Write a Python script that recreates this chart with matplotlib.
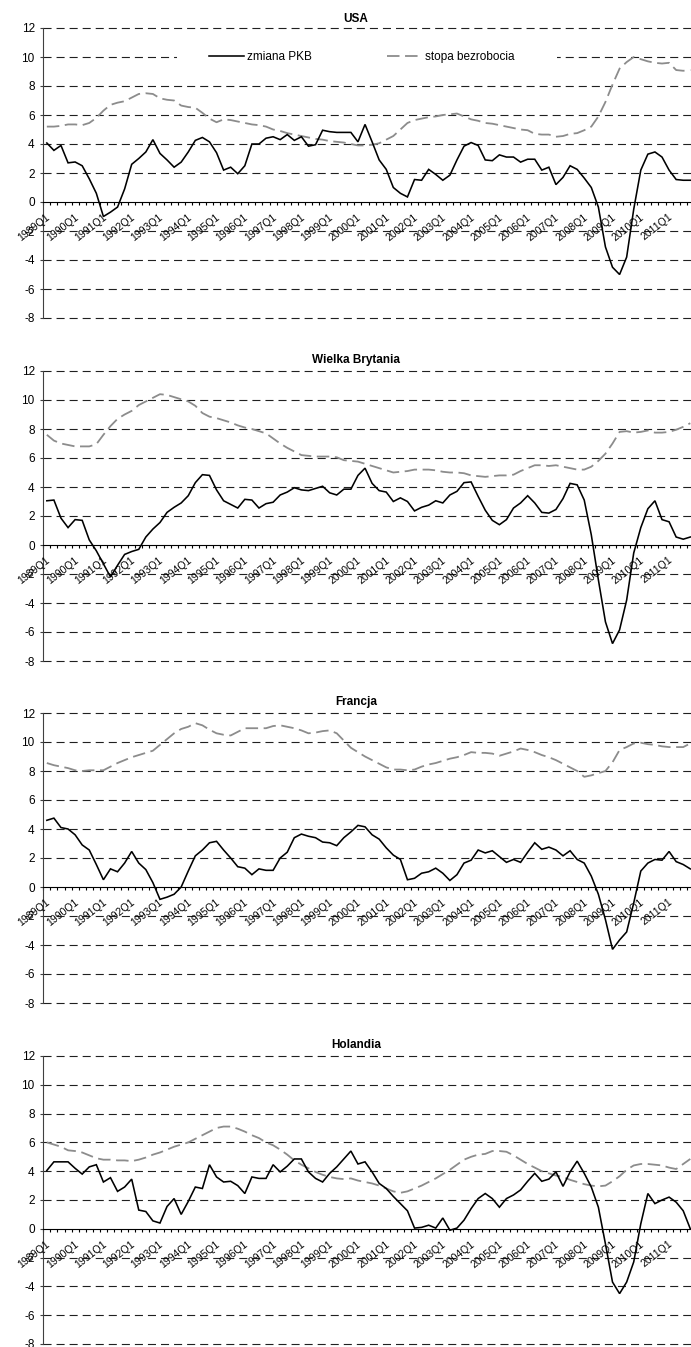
import numpy as np
import matplotlib
matplotlib.use('Agg')
import matplotlib.pyplot as plt
from matplotlib.ticker import FixedLocator, NullFormatter
from matplotlib.transforms import ScaledTranslation
from matplotlib.patches import Rectangle

plt.rcParams['font.family'] = ['Liberation Sans', 'DejaVu Sans']
plt.rcParams['lines.scale_dashes'] = False

# ---------------- data ----------------
quarters = [f"{y}Q{q}" for y in range(1989, 2012) for q in range(1, 5)]
tick_labels = quarters[::4]

usa_gdp = [4.07, 3.56, 3.9, 2.7, 2.76, 2.5, 1.6, 0.6, -1.0, -0.7, -0.35, 0.9, 2.6, 3.0, 3.45, 4.3,
           3.35, 2.9, 2.4, 2.75, 3.45, 4.25, 4.45, 4.15, 3.4, 2.2, 2.4, 1.95, 2.5, 4.0, 4.0, 4.4,
           4.5, 4.3, 4.65, 4.25, 4.5, 3.85, 3.95, 4.95, 4.85, 4.8, 4.8, 4.8, 4.15, 5.35, 4.15, 2.9,
           2.25, 1.0, 0.6, 0.35, 1.55, 1.5, 2.25, 1.9, 1.5, 1.85, 2.9, 3.85, 4.1, 3.9, 2.9, 2.85,
           3.25, 3.1, 3.1, 2.75, 2.95, 2.95, 2.2, 2.4, 1.2, 1.7, 2.5, 2.25, 1.65, 1.0, -0.35, -3.1,
           -4.5, -5.0, -3.8, -0.5, 2.2, 3.3, 3.45, 3.1, 2.2, 1.55, 1.5, 1.5]
usa_unemp = [5.2, 5.2, 5.25, 5.35, 5.35, 5.3, 5.45, 5.8, 6.3, 6.7, 6.85, 6.95, 7.2, 7.45, 7.5, 7.45,
             7.15, 7.05, 7.0, 6.65, 6.55, 6.5, 6.15, 5.75, 5.5, 5.7, 5.65, 5.55, 5.45, 5.35, 5.3, 5.2,
             5.0, 4.9, 4.75, 4.65, 4.55, 4.45, 4.35, 4.3, 4.2, 4.15, 4.1, 4.0, 3.9, 3.9, 3.95, 4.05,
             4.3, 4.55, 5.0, 5.45, 5.65, 5.75, 5.85, 5.9, 6.0, 6.05, 6.1, 5.9, 5.7, 5.6, 5.45, 5.4,
             5.3, 5.2, 5.1, 5.0, 4.95, 4.7, 4.65, 4.65, 4.5, 4.55, 4.7, 4.75, 4.95, 5.2, 5.9, 6.9,
             8.1, 9.2, 9.65, 10.0, 9.85, 9.7, 9.6, 9.55, 9.6, 9.1, 9.05, 9.1]

uk_gdp = [3.05, 3.1, 1.85, 1.2, 1.75, 1.7, 0.35, -0.4, -1.3, -2.2, -1.4, -0.65, -0.45, -0.3, 0.55, 1.1,
          1.55, 2.25, 2.6, 2.9, 3.4, 4.3, 4.85, 4.8, 3.8, 3.05, 2.8, 2.55, 3.15, 3.1, 2.55, 2.85,
          2.95, 3.45, 3.65, 3.95, 3.8, 3.75, 3.9, 4.05, 3.6, 3.45, 3.85, 3.85, 4.8, 5.3, 4.25, 3.75,
          3.65, 3.0, 3.25, 3.0, 2.35, 2.6, 2.75, 3.05, 2.9, 3.45, 3.7, 4.3, 4.35, 3.35, 2.4, 1.7,
          1.4, 1.75, 2.55, 2.9, 3.4, 2.9, 2.25, 2.2, 2.45, 3.2, 4.25, 4.15, 3.1, 0.7, -2.4, -5.3,
          -6.8, -5.85, -3.8, -0.55, 1.2, 2.5, 3.05, 1.75, 1.6, 0.55, 0.4, 0.55]
uk_unemp = [7.6, 7.2, 7.0, 6.9, 6.8, 6.8, 6.8, 6.95, 7.6, 8.2, 8.7, 9.0, 9.25, 9.65, 9.9, 10.15,
            10.4, 10.35, 10.2, 10.05, 9.9, 9.6, 9.1, 8.85, 8.75, 8.6, 8.45, 8.25, 8.1, 8.0, 7.85, 7.7,
            7.35, 7.0, 6.7, 6.45, 6.2, 6.15, 6.1, 6.1, 6.1, 6.05, 5.85, 5.8, 5.75, 5.6, 5.45, 5.3,
            5.15, 5.0, 5.05, 5.1, 5.2, 5.2, 5.2, 5.15, 5.05, 5.0, 5.0, 4.95, 4.8, 4.75, 4.7, 4.75,
            4.8, 4.8, 4.85, 5.1, 5.3, 5.5, 5.5, 5.45, 5.5, 5.4, 5.3, 5.2, 5.2, 5.4, 5.8, 6.3,
            7.0, 7.8, 7.85, 7.75, 7.8, 7.9, 7.75, 7.75, 7.8, 7.95, 8.15, 8.4]

fr_gdp = [4.6, 4.75, 4.1, 4.0, 3.6, 2.9, 2.55, 1.55, 0.5, 1.25, 1.05, 1.65, 2.45, 1.65, 1.2, 0.3,
          -0.85, -0.7, -0.5, 0.0, 1.1, 2.15, 2.55, 3.05, 3.15, 2.55, 2.0, 1.4, 1.3, 0.85, 1.25, 1.15,
          1.15, 2.0, 2.4, 3.4, 3.65, 3.5, 3.4, 3.1, 3.05, 2.85, 3.4, 3.8, 4.25, 4.15, 3.6, 3.3,
          2.7, 2.2, 1.9, 0.5, 0.6, 0.95, 1.05, 1.3, 0.95, 0.45, 0.85, 1.65, 1.85, 2.55, 2.35, 2.5,
          2.1, 1.7, 1.9, 1.7, 2.4, 3.05, 2.6, 2.75, 2.55, 2.15, 2.5, 1.9, 1.65, 0.75, -0.5, -2.25,
          -4.3, -3.65, -3.1, -1.1, 1.1, 1.65, 1.9, 1.85, 2.45, 1.75, 1.55, 1.25]
fr_unemp = [8.55, 8.4, 8.3, 8.2, 8.05, 8.0, 8.05, 8.05, 8.05, 8.3, 8.55, 8.75, 8.95, 9.1, 9.25, 9.4,
            9.8, 10.2, 10.6, 10.9, 11.05, 11.3, 11.15, 10.85, 10.6, 10.5, 10.45, 10.7, 10.95, 10.95, 10.95, 10.95,
            11.1, 11.15, 11.05, 10.95, 10.8, 10.6, 10.65, 10.75, 10.8, 10.6, 10.1, 9.6, 9.3, 9.0, 8.75, 8.5,
            8.25, 8.1, 8.1, 8.05, 8.1, 8.3, 8.45, 8.55, 8.7, 8.85, 8.95, 9.1, 9.3, 9.25, 9.25, 9.2,
            9.05, 9.2, 9.35, 9.55, 9.45, 9.3, 9.1, 8.95, 8.75, 8.5, 8.25, 8.0, 7.6, 7.7, 7.85, 8.0,
            8.6, 9.45, 9.65, 9.9, 9.95, 9.85, 9.8, 9.7, 9.65, 9.65, 9.65, 9.9]

nl_gdp = [4.05, 4.65, 4.65, 4.65, 4.2, 3.8, 4.3, 4.45, 3.25, 3.55, 2.6, 2.9, 3.45, 1.3, 1.2, 0.55,
          0.4, 1.55, 2.1, 1.0, 1.9, 2.9, 2.8, 4.45, 3.6, 3.25, 3.3, 3.0, 2.45, 3.6, 3.5, 3.5,
          4.45, 3.95, 4.35, 4.85, 4.85, 3.95, 3.5, 3.25, 3.85, 4.3, 4.85, 5.4, 4.5, 4.65, 3.95, 3.15,
          2.8, 2.25, 1.75, 1.25, 0.05, 0.1, 0.25, 0.05, 0.75, -0.1, 0.05, 0.6, 1.4, 2.1, 2.45, 2.1,
          1.5, 2.1, 2.35, 2.7, 3.3, 3.85, 3.3, 3.45, 3.95, 2.95, 3.95, 4.7, 3.85, 2.9, 1.5, -1.05,
          -3.7, -4.5, -3.7, -2.3, 0.35, 2.45, 1.75, 2.0, 2.2, 1.85, 1.25, 0.0]
nl_unemp = [6.0, 5.85, 5.7, 5.45, 5.4, 5.3, 5.1, 4.9, 4.8, 4.8, 4.75, 4.75, 4.7, 4.8, 4.95, 5.15,
            5.3, 5.5, 5.7, 5.85, 6.0, 6.25, 6.5, 6.75, 7.0, 7.1, 7.1, 6.95, 6.75, 6.5, 6.3, 6.0,
            5.8, 5.5, 5.15, 4.75, 4.45, 4.2, 3.95, 3.75, 3.6, 3.5, 3.45, 3.5, 3.35, 3.25, 3.15, 3.0,
            2.8, 2.6, 2.5, 2.6, 2.8, 3.0, 3.25, 3.5, 3.8, 4.1, 4.45, 4.8, 5.0, 5.15, 5.2, 5.4,
            5.4, 5.35, 5.1, 4.8, 4.5, 4.25, 4.0, 3.85, 3.7, 3.6, 3.4, 3.25, 3.1, 3.0, 2.95, 3.0,
            3.3, 3.65, 4.1, 4.4, 4.5, 4.5, 4.45, 4.4, 4.25, 4.15, 4.5, 4.85]

titles = ["USA", "Wielka Brytania", "Francja", "Holandia"]
gdp_series = [usa_gdp, uk_gdp, fr_gdp, nl_gdp]
unemp_series = [usa_unemp, uk_unemp, fr_unemp, nl_unemp]
legend_labels = ["zmiana PKB", "stopa bezrobocia"]
y_ticks = list(range(-8, 13, 2))

# ---------------- layout ----------------
W, H = 691, 1347
fig = plt.figure(figsize=(W / 100, H / 100), dpi=100)

ax_left_px, ax_right_px = 43.3, 691.0
panels_px = [(28, 318), (371, 661), (713, 1003), (1056, 1344)]   # (top, bottom) pixel rows
title_bottom_px = [25, 366, 708, 1051]
title_x_px = 356

x = np.arange(len(quarters))

for k in range(4):
    top, bot = panels_px[k]
    ax = fig.add_axes([ax_left_px / W, 1 - bot / H, (ax_right_px - ax_left_px) / W, (bot - top) / H])
    ax.set_xlim(-0.5, 91.1)
    ax.set_ylim(-8, 12)

    # grid
    for yv in y_ticks:
        if yv == 0:
            continue
        ax.axhline(yv, color='#202020', lw=0.8, dashes=(5.8, 3.6), zorder=1, clip_on=False)

    l1, = ax.plot(x, gdp_series[k], color='black', lw=1.15, zorder=4, solid_joinstyle='miter',
                  label=legend_labels[0])
    l2, = ax.plot(x, unemp_series[k], color='#8c8c8c', lw=1.3, dashes=(9.0, 4.0), zorder=3,
                  label=legend_labels[1])

    for s in ['top', 'right']:
        ax.spines[s].set_visible(False)
    ax.spines['left'].set_color('#404040')
    ax.spines['left'].set_linewidth(0.8)
    ax.spines['bottom'].set_position(('data', 0))
    ax.spines['bottom'].set_color('black')
    ax.spines['bottom'].set_linewidth(0.8)
    ax.spines['bottom'].set_zorder(5)

    ax.set_yticks(y_ticks)
    ax.set_yticklabels([str(v) for v in y_ticks], fontsize=8.5)
    ax.tick_params(axis='y', direction='out', length=2.2, width=0.8, pad=4.0, color='#404040')

    ax.xaxis.set_major_locator(FixedLocator(np.arange(-0.5, 92, 1.0)))
    ax.xaxis.set_major_formatter(NullFormatter())
    ax.tick_params(axis='x', which='major', direction='out', length=2.5, width=0.8, color='black')
    ax.xaxis.set_minor_locator(FixedLocator([]))

    offs = ax.transData + ScaledTranslation(-1 / 100, -10 / 100, fig.dpi_scale_trans)
    for j, lab in enumerate(tick_labels):
        ax.text(j * 4, 0, lab, transform=offs, rotation=38, rotation_mode='anchor',
                ha='right', va='top', fontsize=7.5, zorder=6)

    fig.text(title_x_px / W, 1 - title_bottom_px[k] / H, titles[k], ha='center', va='bottom',
             fontsize=8.5, fontweight='bold')

    if k == 0:
        x0 = (177 - ax_left_px) / (ax_right_px - ax_left_px)
        x1 = (557 - ax_left_px) / (ax_right_px - ax_left_px)
        ax.add_patch(Rectangle((x0, 0.88), x1 - x0, 0.04, transform=ax.transAxes,
                               facecolor='white', edgecolor='none', zorder=2))
        lx = (209 - ax_left_px) / (ax_right_px - ax_left_px)
        ax.legend(handles=[l1, l2], loc='center left', bbox_to_anchor=(lx, 0.9), ncol=2,
                  frameon=False, fontsize=8.5, handlelength=3.0, handletextpad=0.25,
                  columnspacing=6.3, borderpad=0.0, borderaxespad=0.0)

fig.savefig('out.png', dpi=100)
